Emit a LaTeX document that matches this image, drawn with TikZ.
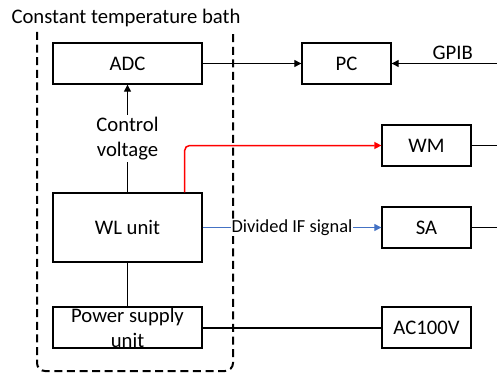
\documentclass[tikz,border=0pt]{standalone}
\usepackage{fontspec}
\setmainfont{Carlito}
\usepackage{xcolor}
\usetikzlibrary{arrows.meta,positioning,calc}
\definecolor{ifblue}{RGB}{68,114,196}
\begin{document}
\begin{tikzpicture}[
  x=0.5pt, y=-0.5pt,
  font=\fontsize{10.35}{12.5}\selectfont,
  box/.style={draw, line width=0.65pt, minimum width=74.5pt, minimum height=20.5pt, inner sep=0pt, align=center},
  ibox/.style={box, minimum width=44.5pt},
  flow/.style={-{Triangle[length=3.5pt, width=3.5pt]}, line width=0.5pt},
  wire/.style={line width=0.5pt},
  bath/.style={line width=1pt, dash pattern=on 4pt off 2.3pt, rounded corners=4pt},
]
\useasboundingbox (0,0) rectangle (497,374);

% bath frame
\node (title) at (126,18) {Constant temperature bath};
\draw[bath] (37,32) -- (37,371) -- (233,371) -- (233,32);

% nodes
\node[box] (adc) at (127.5,63.5) {ADC};
\node[box, minimum height=34.5pt] (wl) at (127.5,227.5) {WL unit};
\node[box] (psu) at (127.5,327.5) {};
\node[align=center, inner sep=0pt] (psutxt) at (127.5,328) {Power supply\\unit};
\node[ibox] (pc) at (346.5,63.5) {PC};
\node[ibox] (wm) at (426.5,145.5) {WM};
\node[ibox] (sa) at (426.5,227.5) {SA};
\node[ibox] (ac) at (426.5,327.5) {AC100V};

\coordinate (gpib) at (497,63.5);
\coordinate (wmout) at (497,145.5);
\coordinate (saout) at (497,227.5);

% connectors
\draw[flow] (wl.north) -- node[fill=white, align=center, inner sep=1pt] {Control\\voltage} (adc.south);
\draw[wire] (wl.south) -- (psu.north);
\draw[flow] (adc.east) -- (pc.west);
\draw[flow] (gpib) -- node[above, pos=0.42, inner sep=1.5pt] {GPIB} (pc.east);
\draw[flow, red, line width=0.75pt, rounded corners=2.5pt] ([xshift=-9pt]wl.north east) |- (wm.west);
\draw[flow, ifblue] (wl.east) -- node[fill=white, text=black, inner sep=0.5pt, font=\fontsize{9.2}{11}\selectfont] {Divided IF signal} (sa.west);
\draw[line width=1pt] (psu.east) -- (ac.west);
\draw[wire] (wm.east) -- (wmout);
\draw[wire] (sa.east) -- (saout);
\end{tikzpicture}
\end{document}
